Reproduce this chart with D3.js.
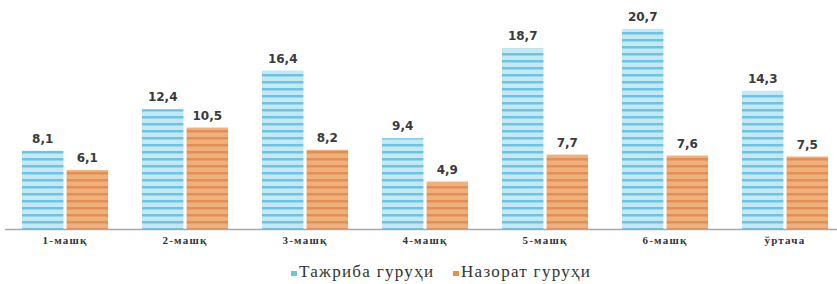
<!DOCTYPE html>
<html>
<head>
<meta charset="utf-8">
<script src="https://cdn.jsdelivr.net/npm/d3@7"></script>
<style>
  body { margin: 0; background: #fff; }
  .val { font-family: "DejaVu Sans", sans-serif; font-weight: bold; font-size: 12px; fill: #3a3a3a; }
  .cat { font-family: "Liberation Serif", serif; font-weight: bold; font-size: 11px; letter-spacing: 1.2px; fill: #333; }
  .leg { font-family: "Liberation Serif", serif; font-size: 17px; letter-spacing: 1.3px; fill: #333; }
</style>
</head>
<body>
<script>
const categories = ['1-машқ', '2-машқ', '3-машқ', '4-машқ', '5-машқ', '6-машқ', 'ўртача'];
const seriesNames = ['Тажриба гуруҳи', 'Назорат гуруҳи'];
const experimental = [8.1, 12.4, 16.4, 9.4, 18.7, 20.7, 14.3];
const control = [6.1, 10.5, 8.2, 4.9, 7.7, 7.6, 7.5];

const width = 837, height = 284;
const baseY = 229;

const svg = d3.select('body').append('svg')
  .attr('width', width)
  .attr('height', height);

// striped fills, like the scanned picture
const defs = svg.append('defs');
function stripes(id, base, stripe)
{
  let p = defs.append('pattern')
    .attr('id', id)
    .attr('patternUnits', 'userSpaceOnUse')
    .attr('width', 8)
    .attr('height', 7);
  p.append('rect').attr('width', 8).attr('height', 7).attr('fill', base);
  p.append('rect').attr('y', 4).attr('width', 8).attr('height', 2.5).attr('fill', stripe);
}
stripes('blue', '#c4e9f5', '#6cc3e4');
stripes('orange', '#efb07c', '#e18f55');

const colors = ['url(#blue)', 'url(#orange)'];
const legendColors = ['#6cc3e4', '#e5904f'];

const x0 = d3.scaleBand()
  .domain(categories)
  .range([5, 845])
  .paddingInner(0.283)
  .paddingOuter(0.1417);

const x1 = d3.scaleBand()
  .domain(seriesNames)
  .range([0, x0.bandwidth()])
  .paddingInner(0.07);

const y = d3.scaleLinear()
  .domain([0, d3.max(experimental)])
  .range([baseY, 29]);

const rows = categories.map((c, i) => ({cat: c, values: [experimental[i], control[i]]}));

const group = svg.append('g')
  .selectAll('g')
  .data(rows)
  .enter()
  .append('g')
  .attr('transform', d => `translate(${x0(d.cat)},0)`);

group.selectAll('rect')
  .data(d => d.values.map((v, k) => ({name: seriesNames[k], k: k, v: v})))
  .enter()
  .append('rect')
  .attr('x', d => x1(d.name))
  .attr('y', d => y(d.v))
  .attr('width', x1.bandwidth())
  .attr('height', d => baseY - y(d.v))
  .attr('fill', d => colors[d.k]);

group.selectAll('text')
  .data(d => d.values.map((v, k) => ({name: seriesNames[k], k: k, v: v})))
  .enter()
  .append('text')
  .attr('class', 'val')
  .attr('text-anchor', 'middle')
  .attr('x', d => x1(d.name) + x1.bandwidth() / 2)
  .attr('y', d => y(d.v) - 8)
  .text(d => String(d.v).replace('.', ','));

// baseline
svg.append('line')
  .attr('x1', 5).attr('x2', width)
  .attr('y1', baseY + 0.5).attr('y2', baseY + 0.5)
  .attr('stroke', '#a8a8a8')
  .attr('stroke-width', 1.5);

svg.append('g')
  .selectAll('text')
  .data(categories)
  .enter()
  .append('text')
  .attr('class', 'cat')
  .attr('text-anchor', 'middle')
  .attr('x', d => x0(d) + x0.bandwidth() / 2)
  .attr('y', 244)
  .text(d => d);

// legend
const legend = svg.append('g').attr('transform', 'translate(291,277)');
const legX = [0, 162];
seriesNames.forEach((name, k) => {
  legend.append('rect')
    .attr('x', legX[k]).attr('y', -6)
    .attr('width', 6).attr('height', 5)
    .attr('fill', legendColors[k]);
  legend.append('text')
    .attr('class', 'leg')
    .attr('x', legX[k] + 8)
    .attr('y', 0)
    .text(name);
});
</script>
</body>
</html>
